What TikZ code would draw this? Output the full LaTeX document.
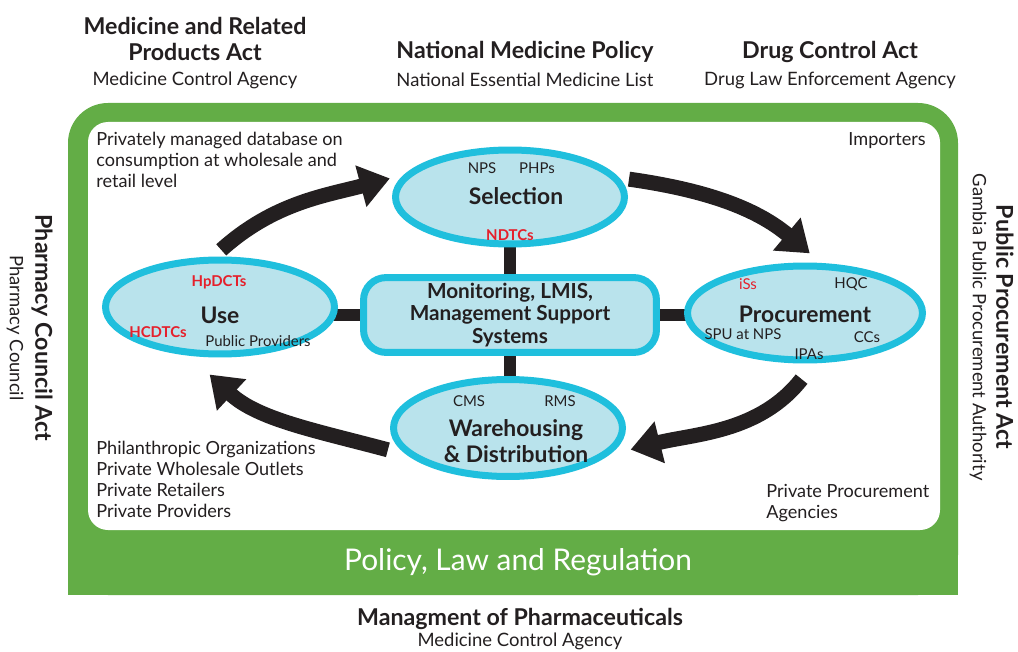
\documentclass[tikz,border=0pt]{standalone}
\usepackage{fontspec}
\setmainfont{Lato}
\usetikzlibrary{arrows.meta,positioning,shapes.geometric,backgrounds}
\definecolor{frame}{HTML}{63AD46}
\definecolor{ring}{HTML}{1FBFDD}
\definecolor{pale}{HTML}{B9E3EC}
\definecolor{ink}{HTML}{231F20}
\definecolor{alert}{HTML}{E5202B}

\begin{document}
\begin{tikzpicture}[x=0.02cm, y=0.02cm, text=ink]
\tikzstyle{stage} = [ellipse, draw=ring, fill=pale, line width=0.14cm, minimum width=4.58cm, minimum height=1.88cm, inner sep=0pt]
\tikzstyle{hub} = [rectangle, rounded corners=0.45cm, draw=ring, fill=pale, line width=0.14cm, minimum width=5.86cm, minimum height=1.36cm, font=\fontsize{11.8}{12.6}\selectfont\bfseries, align=center]
\tikzstyle{title} = [font=\fontsize{13}{14.6}\selectfont\bfseries, align=center, inner sep=0pt]
\tikzstyle{actor} = [font=\fontsize{8.5}{10}\selectfont, inner sep=0pt]
\tikzstyle{board} = [actor, text=alert, font=\fontsize{8.5}{10}\selectfont\bfseries]
\tikzstyle{note} = [font=\fontsize{10.3}{11.9}\selectfont, align=left, inner sep=0pt]
\tikzstyle{act} = [font=\fontsize{13.2}{14.8}\selectfont\bfseries, align=center, inner sep=0pt]
\tikzstyle{agency} = [font=\fontsize{10.5}{12}\selectfont, inner sep=0pt]
\tikzstyle{flow} = [-{Triangle[length=0.6cm,width=0.82cm]}, line width=0.3cm, draw=ink]
\tikzstyle{bar} = [line width=0.24cm, draw=ink]
\useasboundingbox (0,0) rectangle (1018,-652);

% frame
\begin{scope}[on background layer]
\fill[frame, rounded corners=0.8cm] (68,-103) rectangle (958,-595);
\fill[frame] (68,-400) rectangle (958,-595);
\fill[white, rounded corners=0.4cm] (88,-122) rectangle (940,-530);
\end{scope}
\node[font=\fontsize{17}{19}\selectfont, text=white] (policy) at (518,-562) {Policy, Law and Regulation};

% acts around the frame
\node[act] (mrpa) at (195,-39) {Medicine and Related\\Products Act};
\node[agency] (mca) at (195,-80) {Medicine Control Agency};
\node[act] (nmp) at (525,-52) {National Medicine Policy};
\node[agency] (neml) at (525,-80) {National Essential Medicine List};
\node[act] (dca) at (830,-52) {Drug Control Act};
\node[agency] (dlea) at (830,-80) {Drug Law Enforcement Agency};
\node[act, rotate=-90] (pca) at (42,-328) {Pharmacy Council Act};
\node[agency, rotate=-90] (pc) at (15,-328) {Pharmacy Council};
\node[act, rotate=-90] (ppa) at (1005,-327) {Public Procurement Act};
\node[agency, rotate=-90] (gppa) at (978,-327) {Gambia Public Procurement Authority};
\node[act] (mop) at (520,-619) {Managment of Pharmaceuticals};
\node[agency] (mca2) at (520,-641) {Medicine Control Agency};

% cycle
\node[stage] (sel) at (510,-197) {};
\node[stage] (use) at (220,-307) {};
\node[stage, minimum width=4.7cm] (proc) at (805,-313) {};
\node[stage, minimum height=1.94cm] (ware) at (508,-428) {};
\node[hub] (hub) at (510,-315) {Monitoring, LMIS,\\Management Support\\Systems};

\begin{scope}[on background layer]
\draw[bar] (sel) -- (hub);
\draw[bar] (hub) -- (hub |- ware);
\draw[bar] (use.center |- hub) -- (hub);
\draw[bar] (hub) -- (proc.center |- hub);
\end{scope}

\node[title] (seltitle) at (516,-196) {Selection};
\node[actor] (nps) at (482,-168) {NPS};
\node[actor] (php) at (537,-168) {PHPs};
\node[board] (ndtc) at (510,-235) {NDTCs};

\node[title] (usetitle) at (220,-315) {Use};
\node[board] (hpdct) at (219,-282) {HpDCTs};
\node[board] (hcdtc) at (158,-332) {HCDTCs};
\node[actor] (pubprov) at (258,-341) {Public Providers};

\node[title] (proctitle) at (805,-314) {Procurement};
\node[actor, text=alert] (iss) at (748,-284) {iSs};
\node[actor] (hqc) at (851,-284) {HQC};
\node[actor] (spu) at (743,-334) {SPU at NPS};
\node[actor] (ccs) at (867,-337) {CCs};
\node[actor] (ipa) at (809,-354) {IPAs};

\node[title] (waretitle) at (516,-441) {Warehousing\\\& Distribution};
\node[actor] (cms) at (469,-401) {CMS};
\node[actor] (rms) at (560,-401) {RMS};

\draw[flow, shorten <=0.2cm, shorten >=0.3cm] (use.97) to[out=42, in=195] (sel.168);
\draw[flow, shorten <=0.2cm, shorten >=0.3cm] (sel.10) to[out=-8, in=140] (proc.72);
\draw[flow, shorten <=0.4cm, shorten >=0.45cm] (proc.-80) to[out=-128, in=14] (ware.-15);
\draw[flow, shorten <=0.4cm, shorten >=0.55cm] (ware.195) to[out=165, in=-43] (use.238);

% private sector notes
\node[note, anchor=north west] (privdb) at (96,-132) {Privately managed database on\\consumption at wholesale and\\retail level};
\node[note, anchor=north east] (imp) at (926,-132) {Importers};
\node[note, anchor=north west] (privsec) at (96,-441) {Philanthropic Organizations\\Private Wholesale Outlets\\Private Retailers\\Private Providers};
\node[note, anchor=north west] (ppag) at (766,-484) {Private Procurement\\Agencies};
\end{tikzpicture}
\end{document}
